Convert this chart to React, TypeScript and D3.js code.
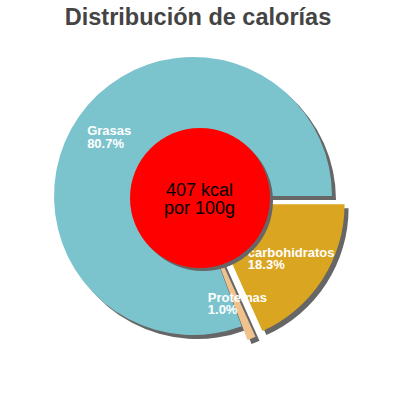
import { useEffect, useRef } from 'react';
import * as d3 from 'd3';

const CATEGORIES = ['carbohidratos', 'Proteínas', 'Grasas'];
const PERCENTS = [18.3, 1.0, 80.7];
const COLORS = ['#daa520', '#efc28e', '#7bc4cd'];
const EXPLODED = [true, true, false];
const CENTER_LINES = ['407 kcal', 'por 100g'];
const TITLE = 'Distribución de calorías';

const W = 400;
const H = 400;

export default function App() {
  const svgRef = useRef<SVGSVGElement>(null);

  useEffect(() => {
    if (!svgRef.current) return;
    const svg = d3.select(svgRef.current);
    svg.selectAll('*').remove();

    const cx = 193;
    const cy = 196;
    const radius = 139;
    const explode = 15;
    const labelR = 102;
    const shadow = { dx: 4, dy: 4 };

    const data = CATEGORIES.map((name, i) => ({
      name,
      value: PERCENTS[i],
      color: COLORS[i],
      exploded: EXPLODED[i],
    }));

    const pie = d3.pie<(typeof data)[number]>()
      .sort(null)
      .value((d) => d.value)
      .startAngle(Math.PI / 2)
      .endAngle(Math.PI / 2 + Math.PI * 2);

    const arcs = pie(data);
    const arc = d3.arc<d3.PieArcDatum<(typeof data)[number]>>()
      .innerRadius(0)
      .outerRadius(radius);

    const offset = (a: d3.PieArcDatum<(typeof data)[number]>) => {
      if (!a.data.exploded) return [0, 0];
      const mid = (a.startAngle + a.endAngle) / 2;
      return [Math.sin(mid) * explode, -Math.cos(mid) * explode];
    };

    // title
    svg.append('text')
      .attr('x', 198)
      .attr('y', 25)
      .attr('text-anchor', 'middle')
      .attr('font-family', 'Liberation Sans, Arial, sans-serif')
      .attr('font-weight', 'bold')
      .attr('font-size', '23.5px')
      .attr('fill', '#444444')
      .text(TITLE);

    const g = svg.append('g').attr('transform', `translate(${cx},${cy})`);

    // shadows
    g.selectAll('path.shadow')
      .data(arcs)
      .join('path')
      .attr('class', 'shadow')
      .attr('d', (d) => arc(d) || '')
      .attr('fill', '#666666')
      .attr('transform', (d) => {
        const [ox, oy] = offset(d);
        return `translate(${ox + shadow.dx},${oy + shadow.dy})`;
      });

    // slices
    g.selectAll('path.slice')
      .data(arcs)
      .join('path')
      .attr('class', 'slice')
      .attr('d', (d) => arc(d) || '')
      .attr('fill', (d) => d.data.color)
      .attr('transform', (d) => {
        const [ox, oy] = offset(d);
        return `translate(${ox},${oy})`;
      });

    // labels
    arcs.forEach((a) => {
      const [ox, oy] = offset(a);
      const mid = (a.startAngle + a.endAngle) / 2;
      const lx = ox + Math.sin(mid) * labelR;
      const ly = oy - Math.cos(mid) * labelR;
      const t = g.append('text')
        .attr('font-family', 'Liberation Sans, Arial, sans-serif')
        .attr('font-weight', 'bold')
        .attr('font-size', '13px')
        .attr('fill', '#ffffff');
      const l1 = t.append('tspan').attr('y', ly - 2.5).text(a.data.name);
      const l2 = t.append('tspan').attr('y', ly + 9.8).text(`${a.data.value.toFixed(1)}%`);
      const w = Math.max(
        (l1.node() as SVGTSpanElement).getComputedTextLength(),
        (l2.node() as SVGTSpanElement).getComputedTextLength(),
      );
      l1.attr('x', lx - w / 2);
      l2.attr('x', lx - w / 2);
    });

    // centre disc
    const rx = 7;
    const ry = 2;
    const innerR = 70;
    g.append('circle')
      .attr('cx', rx + 3)
      .attr('cy', ry + 3)
      .attr('r', innerR)
      .attr('fill', '#666666');
    g.append('circle')
      .attr('cx', rx)
      .attr('cy', ry)
      .attr('r', innerR)
      .attr('fill', '#ff0000');

    const ct = g.append('text')
      .attr('text-anchor', 'middle')
      .attr('font-family', 'Liberation Sans, Arial, sans-serif')
      .attr('font-size', '18px')
      .attr('fill', '#000000');
    CENTER_LINES.forEach((line, i) => {
      ct.append('tspan')
        .attr('x', rx - 0.5)
        .attr('y', ry - 2 + i * 18)
        .text(line);
    });
  }, []);

  return (
    <div style={{ position: 'absolute', left: 0, top: 0, width: W, height: H, background: '#fff' }}>
      <svg ref={svgRef} width={W} height={H} viewBox={`0 0 ${W} ${H}`} />
    </div>
  );
}
